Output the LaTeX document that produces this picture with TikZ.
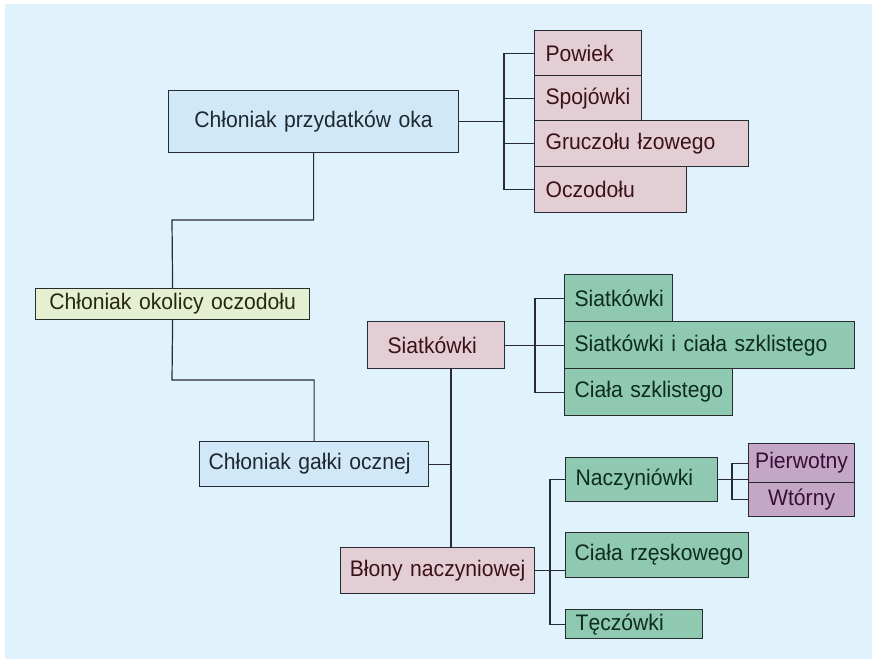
\documentclass[tikz,border=0pt]{standalone}
\usepackage{fontspec}
\setmainfont{Liberation Sans}[FakeStretch=0.94]
\definecolor{bgc}{RGB}{224,242,252}
\definecolor{bluef}{RGB}{208,232,248}
\definecolor{yelf}{RGB}{228,240,208}
\definecolor{pinkf}{RGB}{228,206,214}
\definecolor{greenf}{RGB}{143,201,178}
\definecolor{purpf}{RGB}{196,166,198}
\definecolor{edge}{RGB}{40,44,48}
\definecolor{bluet}{RGB}{30,40,48}
\definecolor{pinkt}{RGB}{58,18,22}
\definecolor{greent}{RGB}{14,44,28}
\definecolor{purpt}{RGB}{56,14,56}
\definecolor{yelt}{RGB}{40,40,14}
\tikzset{
  box/.style={draw=edge, line width=1.2pt, rectangle, anchor=north west,
    inner ysep=0pt, font=\fontsize{22.5}{25}\selectfont},
  bluebox/.style={box, fill=bluef, text=bluet},
  yelbox/.style={box, fill=yelf, text=yelt},
  pinkbox/.style={box, fill=pinkf, text=pinkt},
  greenbox/.style={box, fill=greenf, text=greent},
  purpbox/.style={box, fill=purpf, text=purpt},
  dims/.style n args={4}{inner xsep=#3pt, text width=#1pt-2*#3pt, minimum height=#2pt, align=#4},
  conn/.style={draw=edge, line width=1.2pt}
}
\begin{document}
\begin{tikzpicture}[x=1pt,y=-1pt]
\useasboundingbox (0,0) rectangle (872,659);
\fill[bgc] (5,4) rectangle (872,659);
\coordinate (j1) at (172,220);
\coordinate (j2) at (172,380);
\coordinate (ba) at (504,0);
\coordinate (bs) at (535,0);
\coordinate (v) at (451,0);
\coordinate (bn) at (550,0);
\coordinate (bp) at (732,0);
% nodes
\node[bluebox, dims={290}{62}{10}{center}] (A) at (168,90) {Chłoniak przydatków oka};
\node[pinkbox, dims={107}{45}{11}{left}] (B1) at (534,30) {Powiek};
\node[pinkbox, dims={107}{45}{11}{left}] (B2) at (534,75) {Spojówki};
\node[pinkbox, dims={214}{46}{11}{left}] (B3) at (534,120) {\mbox{Gruczołu łzowego}};
\node[pinkbox, dims={152}{46}{11}{left}] (B4) at (534,166) {Oczodołu};
\node[yelbox, dims={274}{31}{4}{center}] (R) at (35,288) {\mbox{Chłoniak okolicy oczodołu}};
\node[bluebox, dims={229}{45}{9}{left}] (G) at (199,441) {\mbox{Chłoniak gałki ocznej}};
\node[pinkbox, dims={137}{47}{20}{left}] (S) at (367,321) {Siatkówki};
\node[greenbox, dims={108}{47}{10}{left}] (S1) at (564,274) {Siatkówki};
\node[greenbox, dims={290}{47}{10}{left}] (S2) at (564,321) {\mbox{Siatkówki i ciała szklistego}};
\node[greenbox, dims={168}{47}{10}{left}] (S3) at (564,368) {\mbox{Ciała szklistego}};
\node[pinkbox, dims={194}{46}{6}{center}] (N) at (340,547) {\mbox{Błony naczyniowej}};
\node[greenbox, dims={152}{44}{10}{left}] (N1) at (565,457) {Naczyniówki};
\node[greenbox, dims={183}{45}{9}{left}] (N2) at (565,532) {\mbox{Ciała rzęskowego}};
\node[greenbox, dims={137}{29}{10}{left}] (N3) at (565,609) {Tęczówki};
\node[purpbox, dims={106}{39}{4}{center}] (P1) at (748,443) {Pierwotny};
\node[purpbox, dims={106}{34}{4}{center}] (P2) at (748,482) {Wtórny};
% connectors
\draw[conn] (A.south) |- (j1) -- (R.north);
\draw[conn] (R.south) -- (j2) -| (G.north);
\draw[conn] (A.east) -- (A.east -| ba);
\draw[conn] (B1.west) -- (B1.west -| ba) -- (B4.west -| ba) -- (B4.west);
\draw[conn] (B2.west) -- (B2.west -| ba);
\draw[conn] (B3.west) -- (B3.west -| ba);
\draw[conn] (S.east) -- (S2.west);
\draw[conn] (S1.west) -- (S1.west -| bs) -- (S3.west -| bs) -- (S3.west);
\draw[conn] (S.south -| v) -- (N.north -| v);
\draw[conn] (G.east) -- (G.east -| v);
\draw[conn] (N.east) -- (N.east -| N2.west);
\draw[conn] (N1.west) -- (N1.west -| bn) -- (N3.west -| bn) -- (N3.west);
\draw[conn] (N1.east) -- (N1.east -| P1.west);
\draw[conn] (P1.west) -- (P1.west -| bp) -- (P2.west -| bp) -- (P2.west);
\end{tikzpicture}
\end{document}
